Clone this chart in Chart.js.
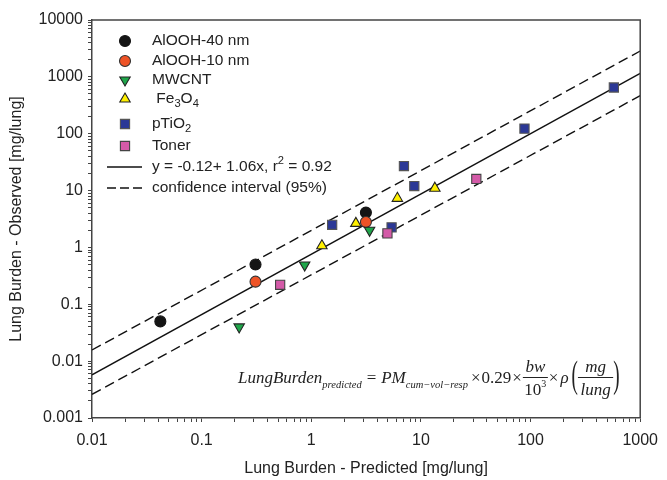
<!DOCTYPE html>
<html>
<head>
<meta charset="utf-8">
<script src="https://cdn.jsdelivr.net/npm/chart.js@4/dist/chart.umd.min.js"></script>
<style>
  html, body { margin: 0; padding: 0; background: #fff; }
  #wrap { width: 667px; height: 480px; position: relative; }
</style>
</head>
<body>
<div id="wrap"><canvas id="c"></canvas></div>
<script>
// ---- data ----
const alooh40X = [0.042, 0.31, 3.15];
const alooh40Y = [0.05, 0.5, 4.1];
const alooh10X = [0.31, 3.15];
const alooh10Y = [0.25, 2.8];
const mwcntX = [0.22, 0.87, 3.4];
const mwcntY = [0.04, 0.49, 2.0];
const fe3o4X = [1.25, 2.55, 6.1, 13.4];
const fe3o4Y = [1.07, 2.65, 7.3, 11];
const ptio2X = [1.55, 5.4, 7.0, 8.7, 88, 575];
const ptio2Y = [2.5, 2.25, 27, 12, 123, 650];
const tonerX = [0.52, 4.95, 32];
const tonerY = [0.22, 1.77, 16];
const fitX = [0.01, 1000];
const fitY = [0.00575, 1148];
const ciUpperY = [0.0157, 2850];
const ciLowerY = [0.00261, 467];

const xTickValues = [0.01, 0.1, 1, 10, 100, 1000];
const xTickLabels = ['0.01', '0.1', '1', '10', '100', '1000'];
const yTickValues = [0.001, 0.01, 0.1, 1, 10, 100, 1000, 10000];
const yTickLabels = ['0.001', '0.01', '0.1', '1', '10', '100', '1000', '10000'];

const xTitle = 'Lung Burden - Predicted [mg/lung]';
const yTitle = 'Lung Burden - Observed [mg/lung]';

const pts = (xs, ys) => xs.map((x, i) => ({ x: x, y: ys[i] }));

function allTicks(majors) {
  const out = [];
  for (let i = 0; i < majors.length; i++) {
    out.push(majors[i]);
    if (i < majors.length - 1) {
      for (let m = 2; m <= 9; m++) out.push(majors[i] * m);
    }
  }
  return out;
}
function labelFor(v, values, labels) {
  for (let i = 0; i < values.length; i++) {
    if (Math.abs(Math.log10(v) - Math.log10(values[i])) < 1e-6) return labels[i];
  }
  return '';
}

const SANS = '"Liberation Sans", Arial, sans-serif';
const SERIF = '"Liberation Serif", "Times New Roman", serif';
const INK = '#222';
const AXIS = '#444';

const styles = [
  { label: 'AlOOH-40 nm', shape: 'circle', fill: '#151515', stroke: '#151515', r: 5.5 },
  { label: 'AlOOH-10 nm', shape: 'circle', fill: '#ee5326', stroke: '#333', r: 5.5 },
  { label: 'MWCNT', shape: 'tridown', fill: '#1fa64a', stroke: '#222', r: 6 },
  { label: 'Fe3O4', shape: 'triup', fill: '#fff000', stroke: '#222', r: 6 },
  { label: 'pTiO2', shape: 'rect', fill: '#2b3896', stroke: '#555', r: 6.5 },
  { label: 'Toner', shape: 'rect', fill: '#d45aa8', stroke: '#444', r: 6.5 }
];
const seriesData = [pts(alooh40X, alooh40Y), pts(alooh10X, alooh10Y), pts(mwcntX, mwcntY),
                    pts(fe3o4X, fe3o4Y), pts(ptio2X, ptio2Y), pts(tonerX, tonerY)];

const datasets = styles.map((s, i) => ({
  label: s.label,
  data: seriesData[i],
  pointStyle: s.shape === 'circle' ? 'circle' : (s.shape === 'rect' ? 'rect' : 'triangle'),
  rotation: s.shape === 'tridown' ? 180 : 0,
  pointRadius: s.r,
  pointHoverRadius: s.r,
  backgroundColor: s.fill,
  borderColor: s.stroke,
  borderWidth: 1.1,
  order: 5 - i
}));
datasets.push({ label: 'fit', data: pts(fitX, fitY), showLine: true, pointRadius: 0, borderColor: '#111', borderWidth: 1.4, fill: false, order: 10 });
datasets.push({ label: 'ciU', data: pts(fitX, ciUpperY), showLine: true, pointRadius: 0, borderColor: '#111', borderWidth: 1.4, borderDash: [10, 5], fill: false, order: 11 });
datasets.push({ label: 'ciL', data: pts(fitX, ciLowerY), showLine: true, pointRadius: 0, borderColor: '#111', borderWidth: 1.4, borderDash: [10, 5], fill: false, order: 12 });

function drawMarker(ctx, s, x, y) {
  ctx.save();
  ctx.fillStyle = s.fill; ctx.strokeStyle = s.stroke; ctx.lineWidth = 1.1;
  ctx.beginPath();
  const r = s.r;
  if (s.shape === 'circle') {
    ctx.arc(x, y, r, 0, Math.PI * 2);
  } else if (s.shape === 'rect') {
    const h = r * Math.SQRT1_2;
    ctx.rect(x - h, y - h, 2 * h, 2 * h);
  } else {
    const dir = s.shape === 'triup' ? 1 : -1;
    const a = r * Math.sin(Math.PI / 3);
    ctx.moveTo(x, y - dir * r);
    ctx.lineTo(x + a, y + dir * r / 2);
    ctx.lineTo(x - a, y + dir * r / 2);
    ctx.closePath();
  }
  ctx.fill(); ctx.stroke();
  ctx.restore();
}

function drawRich(ctx, parts, x, y, size, family, style) {
  for (const [t, k] of parts) {
    let fs = size, dy = 0;
    if (k === 'sub') { fs = size * 0.72; dy = size * 0.3; }
    if (k === 'sup') { fs = size * 0.72; dy = -size * 0.4; }
    ctx.font = (style ? style + ' ' : '') + fs + 'px ' + family;
    ctx.fillText(t, x, y + dy);
    x += ctx.measureText(t).width;
  }
  return x;
}

const legendRows = [
  { y: 41, parts: [['AlOOH-40 nm', 'n']] },
  { y: 61, parts: [['AlOOH-10 nm', 'n']] },
  { y: 80, parts: [['MWCNT', 'n']] },
  { y: 99, parts: [[' Fe', 'n'], ['3', 'sub'], ['O', 'n'], ['4', 'sub']] },
  { y: 124, parts: [['pTiO', 'n'], ['2', 'sub']] },
  { y: 146, parts: [['Toner', 'n']] },
  { y: 167, parts: [['y = -0.12+ 1.06x, r', 'n'], ['2', 'sup'], [' = 0.92', 'n']], line: 'solid' },
  { y: 188, parts: [['confidence interval (95%)', 'n']], line: 'dash' }
];

const overlay = {
  id: 'overlay',
  afterDraw(chart) {
    const ctx = chart.ctx;
    const a = chart.chartArea;
    ctx.save();
    ctx.strokeStyle = AXIS; ctx.lineWidth = 1.5;
    ctx.beginPath();
    ctx.moveTo(a.left, a.top); ctx.lineTo(a.right, a.top); ctx.lineTo(a.right, a.bottom);
    ctx.stroke();

    // legend
    ctx.fillStyle = INK;
    ctx.textBaseline = 'middle';
    ctx.textAlign = 'left';
    legendRows.forEach((row, i) => {
      if (i < styles.length) drawMarker(ctx, styles[i], 125, row.y);
      if (row.line) {
        ctx.save();
        ctx.strokeStyle = '#111'; ctx.lineWidth = 1.4;
        ctx.setLineDash(row.line === 'dash' ? [9, 4] : []);
        ctx.beginPath(); ctx.moveTo(107, row.y); ctx.lineTo(142, row.y); ctx.stroke();
        ctx.restore();
      }
      ctx.fillStyle = INK;
      drawRich(ctx, row.parts, 152, row.y, 15.5, SANS, '');
    });

    // axis titles
    ctx.font = '16px ' + SANS;
    ctx.textAlign = 'center';
    ctx.textBaseline = 'middle';
    ctx.fillText(xTitle, (a.left + a.right) / 2, 469);
    ctx.save();
    ctx.translate(17, (a.top + a.bottom) / 2);
    ctx.rotate(-Math.PI / 2);
    ctx.fillText(yTitle, 0, 0);
    ctx.restore();

    // formula
    ctx.textAlign = 'left';
    ctx.textBaseline = 'alphabetic';
    ctx.fillStyle = '#222';
    const base = 383;
    const FI = 'italic 17px ' + SERIF, FR = '17px ' + SERIF, FS = 'italic 10.5px ' + SERIF;
    let x = 238;
    const put = (t, f, dy) => { ctx.font = f; ctx.fillText(t, x, base + (dy || 0)); x += ctx.measureText(t).width; };
    put('LungBurden', FI); put('predicted', FS, 5); x += 5;
    put('=', FR); x += 5;
    put('PM', FI); put('cum\u2212vol\u2212resp', FS, 5); x += 3;
    put('\u00d7', FR); x += 1; put('0.29', FR); x += 1; put('\u00d7', FR); x += 1;
    const frac = (num, numF, den) => {
      ctx.font = numF; const wn = ctx.measureText(num).width;
      ctx.font = FR; let wd = ctx.measureText(den[0]).width;
      ctx.font = '10px ' + SERIF; wd += den[1] ? ctx.measureText(den[1]).width : 0;
      const w = Math.max(wn, wd) + 3;
      ctx.font = numF; ctx.fillText(num, x + (w - wn) / 2, base - 11);
      ctx.save(); ctx.strokeStyle = '#222'; ctx.lineWidth = 1;
      ctx.beginPath(); ctx.moveTo(x, base - 5.5); ctx.lineTo(x + w, base - 5.5); ctx.stroke(); ctx.restore();
      let dx = x + (w - wd) / 2;
      ctx.font = FR; ctx.fillText(den[0], dx, base + 12); dx += ctx.measureText(den[0]).width;
      if (den[1]) { ctx.font = '10px ' + SERIF; ctx.fillText(den[1], dx, base + 4); }
      x += w;
    };
    frac('bw', FI, ['10', '3']);
    x += 1; put('\u00d7', FR); x += 2; put('\u03c1', FI); x += 3;
    const paren = (ch) => {
      ctx.save(); ctx.font = '19px ' + SERIF;
      ctx.translate(x, base - 5.5); ctx.scale(1, 2.0);
      ctx.textBaseline = 'middle'; ctx.fillText(ch, 0, 0);
      const w = ctx.measureText(ch).width; ctx.restore(); x += w;
    };
    paren('(');
    ctx.font = FI; const wl = ctx.measureText('lung').width, wm = ctx.measureText('mg').width;
    const wf = Math.max(wl, wm) + 5;
    ctx.fillText('mg', x + (wf - wm) / 2, base - 11);
    ctx.fillText('lung', x + (wf - wl) / 2, base + 12);
    ctx.save(); ctx.strokeStyle = '#222'; ctx.lineWidth = 1;
    ctx.beginPath(); ctx.moveTo(x, base - 5.5); ctx.lineTo(x + wf, base - 5.5); ctx.stroke(); ctx.restore();
    x += wf;
    paren(')');
    ctx.restore();
  }
};

const tickFont = { family: SANS, size: 16 };

new Chart(document.getElementById('c'), {
  type: 'scatter',
  data: { datasets: datasets },
  options: {
    responsive: true,
    maintainAspectRatio: false,
    animation: false,
    events: [],
    layout: { padding: { top: 20, right: 24, left: 0, bottom: 0 } },
    plugins: { legend: { display: false }, tooltip: { enabled: false } },
    scales: {
      x: {
        type: 'logarithmic',
        min: 0.01, max: 1000,
        afterBuildTicks: (s) => { s.ticks = allTicks(xTickValues).map(v => ({ value: v })); },
        afterFit: (s) => { s.height = 62; },
        ticks: {
          autoSkip: false, maxRotation: 0, minRotation: 0,
          color: INK, font: tickFont, padding: 9,
          callback: (v) => labelFor(v, xTickValues, xTickLabels)
        },
        grid: { drawOnChartArea: false, drawTicks: true, tickLength: 4, tickColor: AXIS, tickWidth: 1 },
        border: { display: true, color: AXIS, width: 1.5 }
      },
      y: {
        type: 'logarithmic',
        min: 0.001, max: 10000,
        afterBuildTicks: (s) => { s.ticks = allTicks(yTickValues).map(v => ({ value: v })); },
        afterFit: (s) => { s.width = 92; },
        ticks: {
          autoSkip: false,
          color: INK, font: tickFont, padding: 5,
          callback: (v) => labelFor(v, yTickValues, yTickLabels)
        },
        grid: { drawOnChartArea: false, drawTicks: true, tickLength: 4, tickColor: AXIS, tickWidth: 1 },
        border: { display: true, color: AXIS, width: 1.5 }
      }
    }
  },
  plugins: [overlay]
});
</script>
</body>
</html>
